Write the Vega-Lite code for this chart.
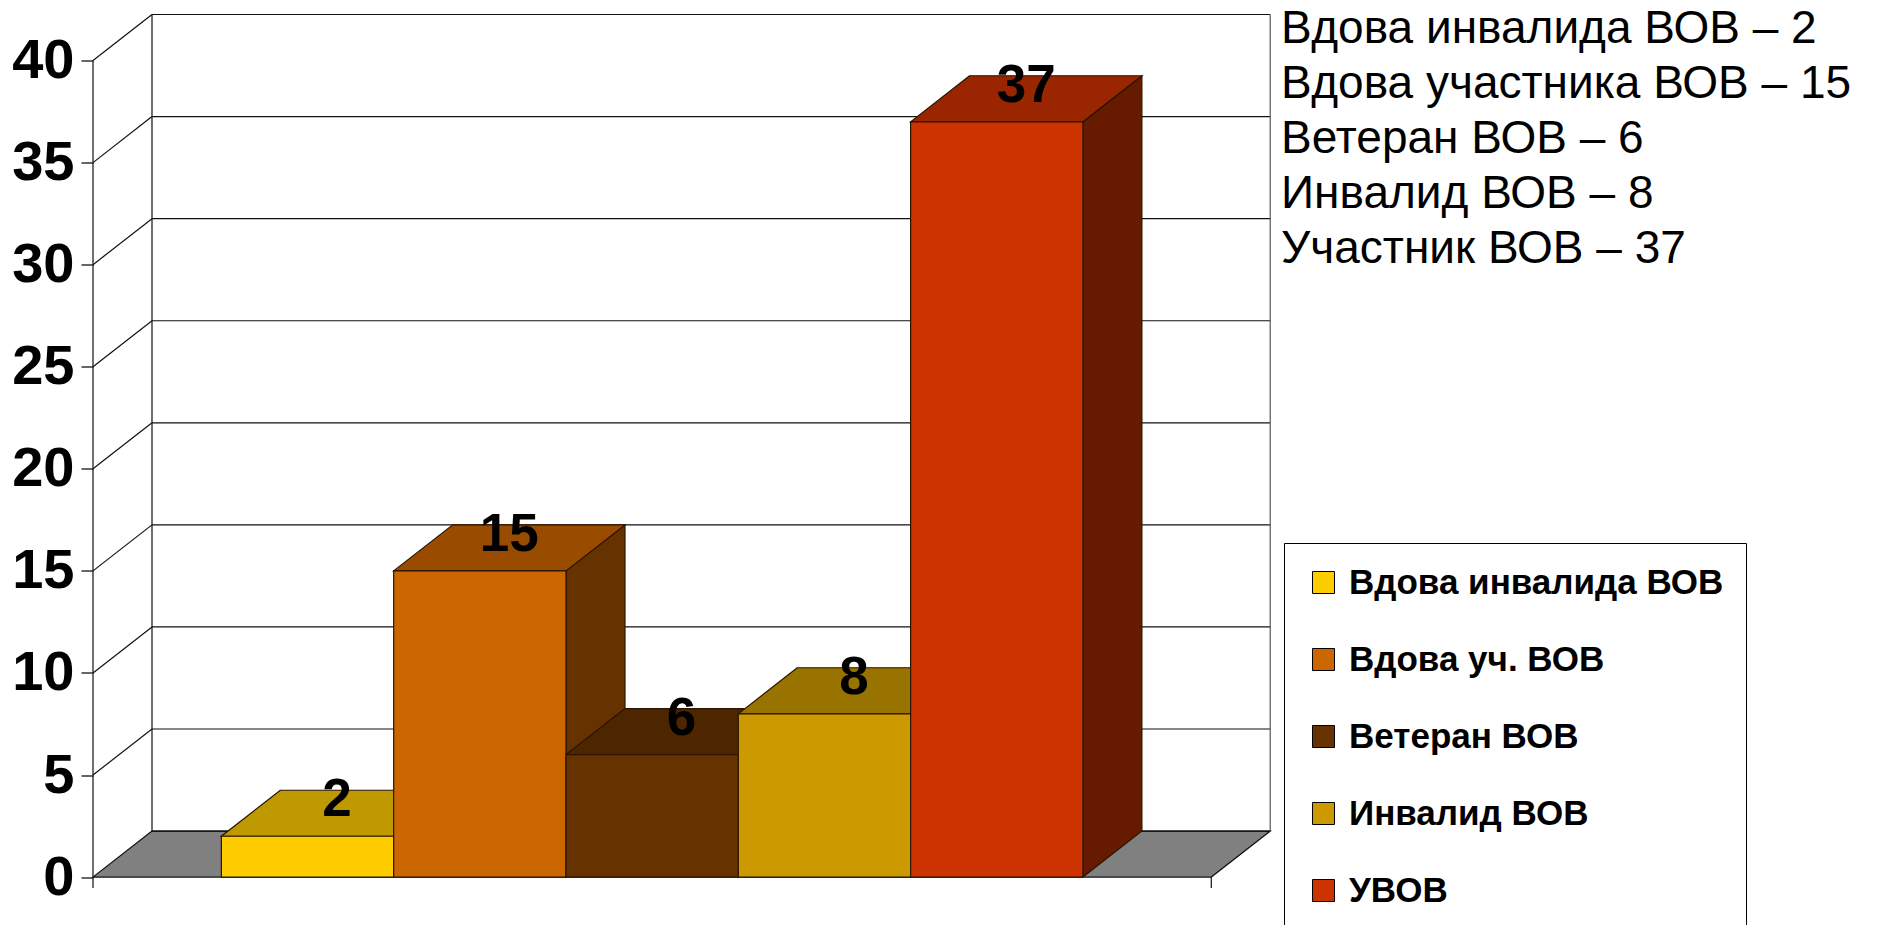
{
  "$schema": "https://vega.github.io/schema/vega-lite/v6.json",
  "autosize": "none",
  "width": 1792,
  "height": 888,
  "padding": {"left": 93, "top": 9.5, "right": 0, "bottom": 27.5},
  "background": "#ffffff",
  "config": {
    "view": {"stroke": null},
    "axisY": {"domain": false, "grid": false, "tickSize": 12, "tickColor": "#000000", "tickWidth": 1.2,
      "labelFont": "Liberation Sans", "labelFontWeight": "bold", "labelFontSize": 56, "labelColor": "#000000", "labelPadding": 7}
  },
  "datasets": {
    "bars": [
      {"cat": "Вдова инвалида ВОВ", "name": "Вдова инвалида ВОВ", "i": 1, "v": 2},
      {"cat": "Вдова уч. ВОВ", "name": "Вдова участника ВОВ", "i": 2, "v": 15},
      {"cat": "Ветеран ВОВ", "name": "Ветеран ВОВ", "i": 3, "v": 6},
      {"cat": "Инвалид ВОВ", "name": "Инвалид ВОВ", "i": 4, "v": 8},
      {"cat": "УВОВ", "name": "Участник ВОВ", "i": 5, "v": 37}
    ],
    "grid": [{"g": 0}, {"g": 5}, {"g": 10}, {"g": 15}, {"g": 20}, {"g": 25}, {"g": 30}, {"g": 35}, {"g": 40}],
    "depth": [{"d": 0}, {"d": 1}],
    "edges": [{"e": "left"}, {"e": "right"}]
  },
  "layer": [
    {
      "data": {"name": "depth"},
      "transform": [
        {"calculate": "datum.d * 2.254", "as": "fy"},
        {"calculate": "-0.245 + datum.d * 0.3424", "as": "fx"},
        {"calculate": "6.245 + datum.d * 0.3424", "as": "fx2"}
      ],
      "mark": {"type": "area", "orient": "horizontal", "fill": "#808080", "stroke": "#111111", "strokeWidth": 1.2},
      "encoding": {
        "y": {"field": "fy", "type": "quantitative", "title": null,
          "scale": {"domain": [-1, 42.5], "nice": false, "zero": false},
          "axis": {"values": [0, 5, 10, 15, 20, 25, 30, 35, 40], "title": null}},
        "x": {"field": "fx", "type": "quantitative", "scale": {"domain": [-0.245, 10.155], "nice": false, "zero": false}, "axis": null},
        "x2": {"field": "fx2"}
      }
    },
    {
      "data": {"name": "grid"},
      "transform": [
        {"calculate": "datum.g + 2.254", "as": "gb"},
        {"calculate": "0.0974", "as": "wx"},
        {"calculate": "6.587", "as": "wx2"}
      ],
      "mark": {"type": "rule", "stroke": "#111111", "strokeWidth": 1.2},
      "encoding": {
        "x": {"field": "wx", "type": "quantitative", "axis": null},
        "x2": {"field": "wx2"},
        "y": {"field": "gb", "type": "quantitative", "title": null}
      }
    },
    {
      "data": {"name": "grid"},
      "transform": [
        {"filter": "datum.g > 0"},
        {"calculate": "datum.g + 2.254", "as": "gb"},
        {"calculate": "-0.245", "as": "wx"},
        {"calculate": "0.0974", "as": "wx2"}
      ],
      "mark": {"type": "rule", "stroke": "#111111", "strokeWidth": 1.2},
      "encoding": {
        "x": {"field": "wx", "type": "quantitative", "axis": null},
        "x2": {"field": "wx2"},
        "y": {"field": "g", "type": "quantitative", "title": null},
        "y2": {"field": "gb"}
      }
    },
    {
      "data": {"name": "edges"},
      "transform": [
        {"calculate": "datum.e == 'left' ? 0.0974 : 6.587", "as": "ex"},
        {"calculate": "2.254", "as": "ey"},
        {"calculate": "42.254", "as": "ey2"}
      ],
      "mark": {"type": "rule", "strokeWidth": 1.2},
      "encoding": {
        "x": {"field": "ex", "type": "quantitative", "axis": null},
        "y": {"field": "ey", "type": "quantitative", "title": null},
        "y2": {"field": "ey2"},
        "stroke": {"field": "e", "type": "nominal", "scale": {"domain": ["left", "right"], "range": ["#111111", "#555555"]}, "legend": null}
      }
    },
    {
      "data": {"name": "edges"},
      "transform": [
        {"calculate": "datum.e == 'left' ? -0.245 : 6.245", "as": "ex"},
        {"calculate": "-0.54", "as": "ey"},
        {"calculate": "datum.e == 'left' ? 40 : 0", "as": "ey2"}
      ],
      "mark": {"type": "rule", "stroke": "#111111", "strokeWidth": 1.2},
      "encoding": {
        "x": {"field": "ex", "type": "quantitative", "axis": null},
        "y": {"field": "ey", "type": "quantitative", "title": null},
        "y2": {"field": "ey2"}
      }
    },
    {
      "data": {"name": "bars"},
      "transform": [
        {"calculate": "[0, 1]", "as": "d"},
        {"flatten": ["d"]},
        {"calculate": "datum.i + 0.5 + datum.d * 0.3424", "as": "sx"},
        {"calculate": "datum.d * 2.254", "as": "sy"},
        {"calculate": "datum.v + datum.d * 2.254", "as": "sy2"}
      ],
      "mark": {"type": "area", "stroke": "#2a1500", "strokeWidth": 1.2},
      "encoding": {
        "x": {"field": "sx", "type": "quantitative", "axis": null},
        "y": {"field": "sy", "type": "quantitative", "title": null},
        "y2": {"field": "sy2"},
        "color": {"field": "cat", "type": "nominal",
          "scale": {"domain": ["Вдова инвалида ВОВ", "Вдова уч. ВОВ", "Ветеран ВОВ", "Инвалид ВОВ", "УВОВ"],
                    "range": ["#806600", "#663300", "#331a00", "#664d00", "#661a00"]},
          "legend": null}
      }
    },
    {
      "data": {"name": "bars"},
      "transform": [
        {"calculate": "[0, 1]", "as": "d"},
        {"flatten": ["d"]},
        {"calculate": "datum.i - 0.5 + datum.d * 0.3424", "as": "tx"},
        {"calculate": "datum.i + 0.5 + datum.d * 0.3424", "as": "tx2"},
        {"calculate": "datum.v + datum.d * 2.254", "as": "ty"}
      ],
      "mark": {"type": "area", "orient": "horizontal", "stroke": "#2a1500", "strokeWidth": 1.2},
      "encoding": {
        "y": {"field": "ty", "type": "quantitative", "title": null},
        "x": {"field": "tx", "type": "quantitative", "axis": null},
        "x2": {"field": "tx2"},
        "color": {"field": "cat", "type": "nominal",
          "scale": {"domain": ["Вдова инвалида ВОВ", "Вдова уч. ВОВ", "Ветеран ВОВ", "Инвалид ВОВ", "УВОВ"],
                    "range": ["#bf9900", "#994c00", "#4d2600", "#997300", "#992600"]},
          "legend": null}
      }
    },
    {
      "data": {"name": "bars"},
      "transform": [
        {"calculate": "datum.i - 0.5", "as": "bx"},
        {"calculate": "datum.i + 0.5", "as": "bx2"},
        {"calculate": "0", "as": "by"}
      ],
      "mark": {"type": "rect", "stroke": "#2a1500", "strokeWidth": 1.2},
      "encoding": {
        "x": {"field": "bx", "type": "quantitative", "axis": null},
        "x2": {"field": "bx2"},
        "y": {"field": "by", "type": "quantitative", "title": null},
        "y2": {"field": "v"},
        "color": {"field": "cat", "type": "nominal",
          "scale": {"domain": ["Вдова инвалида ВОВ", "Вдова уч. ВОВ", "Ветеран ВОВ", "Инвалид ВОВ", "УВОВ"],
                    "range": ["#ffcc00", "#cc6600", "#663300", "#cc9900", "#cc3300"]},
          "legend": {"orient": "none", "legendX": 1191, "legendY": 533.5, "title": null,
            "symbolType": "square", "symbolSize": 484, "symbolStrokeColor": "#000000", "symbolStrokeWidth": 1,
            "labelFont": "Liberation Sans", "labelFontWeight": "bold", "labelFontSize": 35, "labelColor": "#000000",
            "labelOffset": 8, "labelLimit": 0, "rowPadding": 41, "padding": 22, "strokeColor": "#000000"}}
      }
    },
    {
      "data": {"name": "bars"},
      "transform": [
        {"calculate": "datum.i + 0.171", "as": "lx"},
        {"calculate": "datum.v + 1.127", "as": "ly"}
      ],
      "mark": {"type": "text", "font": "Liberation Sans", "fontWeight": "bold", "fontSize": 53, "color": "#000000", "align": "center", "baseline": "alphabetic", "dy": 3},
      "encoding": {
        "x": {"field": "lx", "type": "quantitative", "axis": null},
        "y": {"field": "ly", "type": "quantitative", "title": null},
        "text": {"field": "v", "type": "quantitative"}
      }
    },
    {
      "data": {"name": "bars"},
      "transform": [
        {"calculate": "datum.name + ' – ' + datum.v", "as": "line"},
        {"calculate": "40.85 - (datum.i - 1) * 2.69", "as": "ny"},
        {"calculate": "6.65", "as": "nx"}
      ],
      "mark": {"type": "text", "font": "Liberation Sans", "fontSize": 46, "color": "#000000", "align": "left", "baseline": "alphabetic"},
      "encoding": {
        "x": {"field": "nx", "type": "quantitative", "axis": null},
        "y": {"field": "ny", "type": "quantitative", "title": null},
        "text": {"field": "line", "type": "nominal"}
      }
    }
  ],
  "resolve": {"scale": {"color": "independent"}}
}
